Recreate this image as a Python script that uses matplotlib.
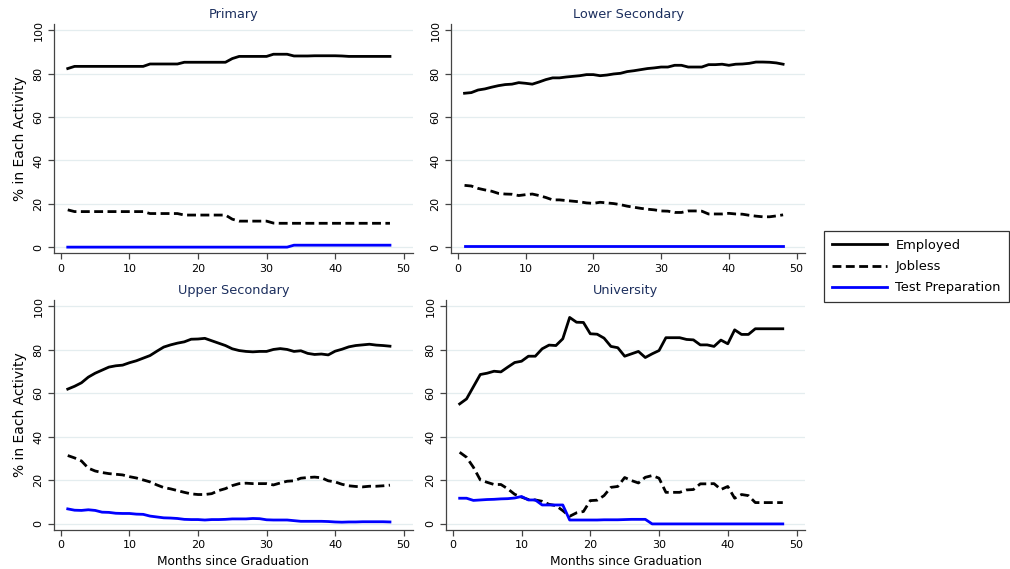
import numpy as np
import matplotlib
matplotlib.use("Agg")
import matplotlib.pyplot as plt

months = list(range(1, 49))

# --- Primary ---
primary_employed = [82.4, 83.4, 83.4, 83.4, 83.4, 83.4, 83.4, 83.4, 83.4, 83.4,
                    83.4, 83.4, 84.5, 84.5, 84.5, 84.5, 84.5, 85.3, 85.3, 85.3,
                    85.3, 85.3, 85.3, 85.3, 87.0, 88.0, 88.0, 88.0, 88.0, 88.0,
                    89.0, 89.0, 89.0, 88.2, 88.2, 88.2, 88.3, 88.3, 88.3, 88.3,
                    88.2, 88.0, 88.0, 88.0, 88.0, 88.0, 88.0, 88.0]
primary_jobless = [17.2, 16.4, 16.4, 16.4, 16.4, 16.4, 16.4, 16.4, 16.4, 16.4,
                   16.4, 16.4, 15.5, 15.5, 15.5, 15.5, 15.5, 14.8, 14.8, 14.8,
                   14.8, 14.8, 14.8, 14.8, 12.9, 12.0, 12.0, 12.0, 12.0, 12.0,
                   11.1, 11.0, 11.0, 11.0, 11.0, 11.0, 11.0, 11.0, 11.0, 11.0,
                   11.0, 11.0, 11.0, 11.0, 11.0, 11.0, 11.0, 11.0]
primary_test = [0.0] * 33 + [0.9] * 15

# --- Lower Secondary ---
lower_employed = [71.0, 71.3, 72.5, 73.0, 73.8, 74.5, 75.0, 75.2, 75.9, 75.6,
                  75.2, 76.2, 77.3, 78.1, 78.1, 78.5, 78.8, 79.1, 79.6, 79.6,
                  79.1, 79.4, 79.9, 80.2, 81.0, 81.4, 81.9, 82.4, 82.7, 83.1,
                  83.1, 83.9, 83.9, 83.1, 83.1, 83.1, 84.2, 84.2, 84.4, 83.9,
                  84.4, 84.5, 84.8, 85.4, 85.4, 85.3, 85.0, 84.4]
lower_jobless = [28.5, 28.2, 27.1, 26.4, 25.8, 24.8, 24.5, 24.4, 23.8, 24.2,
                 24.5, 23.8, 22.9, 21.8, 21.8, 21.5, 21.2, 20.9, 20.4, 20.2,
                 20.7, 20.4, 20.1, 19.6, 18.9, 18.4, 17.9, 17.5, 17.2, 16.7,
                 16.6, 16.0, 16.0, 16.7, 16.7, 16.6, 15.3, 15.3, 15.3, 15.6,
                 15.3, 15.2, 14.7, 14.3, 14.0, 14.0, 14.4, 14.9]
lower_test = [0.3] * 48

# --- Upper Secondary ---
upper_employed = [61.9, 63.2, 64.8, 67.4, 69.2, 70.6, 72.0, 72.6, 72.9, 74.0,
                  74.9, 76.1, 77.3, 79.3, 81.2, 82.2, 83.0, 83.6, 84.8, 84.9,
                  85.2, 84.1, 83.0, 81.9, 80.4, 79.6, 79.2, 79.0, 79.2, 79.2,
                  80.1, 80.5, 80.1, 79.2, 79.5, 78.3, 77.8, 78.0, 77.6, 79.3,
                  80.2, 81.3, 81.9, 82.2, 82.5, 82.1, 81.9, 81.6]
upper_jobless = [31.4, 30.3, 28.9, 25.6, 24.3, 23.6, 23.1, 22.8, 22.5, 21.7,
                 21.1, 20.2, 19.3, 17.9, 16.7, 16.1, 15.3, 14.5, 13.8, 13.5,
                 13.5, 13.9, 15.3, 16.2, 17.6, 18.5, 18.7, 18.5, 18.5, 18.5,
                 17.9, 18.8, 19.6, 19.8, 21.0, 21.3, 21.5, 21.2, 19.8, 19.3,
                 18.2, 17.5, 17.2, 17.0, 17.3, 17.3, 17.5, 17.8]
upper_test = [6.9, 6.3, 6.2, 6.5, 6.2, 5.4, 5.3, 4.9, 4.8, 4.8,
              4.5, 4.4, 3.6, 3.2, 2.8, 2.7, 2.5, 2.1, 2.0, 2.0,
              1.8, 2.0, 2.0, 2.1, 2.3, 2.3, 2.3, 2.5, 2.4, 1.9,
              1.8, 1.8, 1.8, 1.5, 1.2, 1.2, 1.2, 1.2, 1.1, 0.9,
              0.8, 0.9, 0.9, 1.0, 1.0, 1.0, 1.0, 0.9]

# --- University ---
univ_employed = [55.1, 57.4, 63.0, 68.6, 69.2, 70.1, 69.8, 72.0, 74.1, 74.7,
                 77.0, 77.0, 80.4, 82.1, 81.9, 85.0, 94.8, 92.6, 92.5, 87.3,
                 87.1, 85.3, 81.5, 80.9, 77.0, 78.1, 79.2, 76.4, 78.1, 79.6,
                 85.5, 85.5, 85.5, 84.7, 84.5, 82.2, 82.2, 81.5, 84.4, 82.7,
                 89.1, 87.0, 87.0, 89.6, 89.6, 89.6, 89.6, 89.6]
univ_jobless = [32.9, 30.6, 26.0, 20.2, 19.1, 18.1, 18.1, 16.1, 13.6, 12.3,
                11.2, 11.0, 10.4, 9.0, 8.4, 6.1, 3.5, 5.1, 5.7, 10.7,
                10.9, 13.0, 16.8, 17.2, 21.3, 19.9, 18.8, 21.4, 22.2, 21.0,
                14.5, 14.5, 14.5, 15.6, 15.8, 18.4, 18.4, 18.5, 15.8, 17.2,
                11.8, 13.5, 13.0, 9.8, 9.8, 9.8, 9.8, 9.8]
univ_test = [11.8, 11.8, 10.8, 11.0, 11.2, 11.3, 11.5, 11.6, 11.9, 12.6,
             11.0, 11.0, 8.7, 8.7, 8.7, 8.7, 1.8, 1.8, 1.8, 1.8,
             1.8, 1.9, 1.9, 1.9, 2.0, 2.1, 2.1, 2.1, 0.0, 0.0,
             0.0, 0.0, 0.0, 0.0, 0.0, 0.0, 0.0, 0.0, 0.0, 0.0,
             0.0, 0.0, 0.0, 0.0, 0.0, 0.0, 0.0, 0.0]

panel_titles = ["Primary", "Lower Secondary", "Upper Secondary", "University"]
panel_data = [
    (primary_employed, primary_jobless, primary_test),
    (lower_employed, lower_jobless, lower_test),
    (upper_employed, upper_jobless, upper_test),
    (univ_employed, univ_jobless, univ_test),
]
series_labels = ["Employed", "Jobless", "Test Preparation"]

plt.rcParams["font.family"] = ["DejaVu Sans"]

fig = plt.figure(figsize=(10.1, 5.69), dpi=100)

# axes rectangles [left, bottom, width, height] in figure fraction
rects = [
    [0.0535, 0.555, 0.355, 0.403],
    [0.4465, 0.555, 0.351, 0.403],
    [0.0535, 0.0685, 0.355, 0.405],
    [0.4415, 0.0685, 0.356, 0.405],
]

title_color = "#1c2f5e"
grid_color = "#e4edef"
lw = 2.0

handles = None
for i, (rect, title, (emp, job, test)) in enumerate(zip(rects, panel_titles, panel_data)):
    ax = fig.add_axes(rect)
    h1, = ax.plot(months, emp, color="black", linewidth=lw, solid_joinstyle="round")
    h2, = ax.plot(months, job, color="black", linewidth=lw, linestyle=(0, (3.2, 1.6)))
    h3, = ax.plot(months, test, color="#0000ff", linewidth=lw)
    handles = [h1, h2, h3]

    ax.set_xlim(-1.0, 51.3)
    ax.set_ylim(-2.8, 103)
    ax.set_xticks([0, 10, 20, 30, 40, 50])
    ax.set_yticks([0, 20, 40, 60, 80, 100])
    ax.grid(axis="y", color=grid_color, linewidth=0.9)
    ax.set_axisbelow(True)
    for side in ["top", "right"]:
        ax.spines[side].set_visible(False)
    for side in ["left", "bottom"]:
        ax.spines[side].set_color("#444444")
        ax.spines[side].set_linewidth(0.9)
    ax.tick_params(axis="both", colors="#444444", labelcolor="black",
                   labelsize=8, length=4, width=0.9)
    for lab in ax.get_yticklabels():
        lab.set_rotation(90)
        lab.set_va("center")

    ax.set_title(title, color=title_color, fontsize=9.3, pad=4)
    if i % 2 == 0:
        ax.set_ylabel("% in Each Activity", fontsize=10, labelpad=5)
    if i >= 2:
        ax.set_xlabel("Months since Graduation", fontsize=8.7, labelpad=3)

leg = fig.legend(handles, series_labels, loc="upper left",
                 bbox_to_anchor=(0.816, 0.594), fontsize=9.4,
                 handlelength=4.2, handletextpad=0.65, labelspacing=0.63,
                 borderpad=0.6, borderaxespad=0, fancybox=False, framealpha=1,
                 edgecolor="#333333")
leg.get_frame().set_linewidth(0.9)

fig.savefig("out.png", dpi=100)
